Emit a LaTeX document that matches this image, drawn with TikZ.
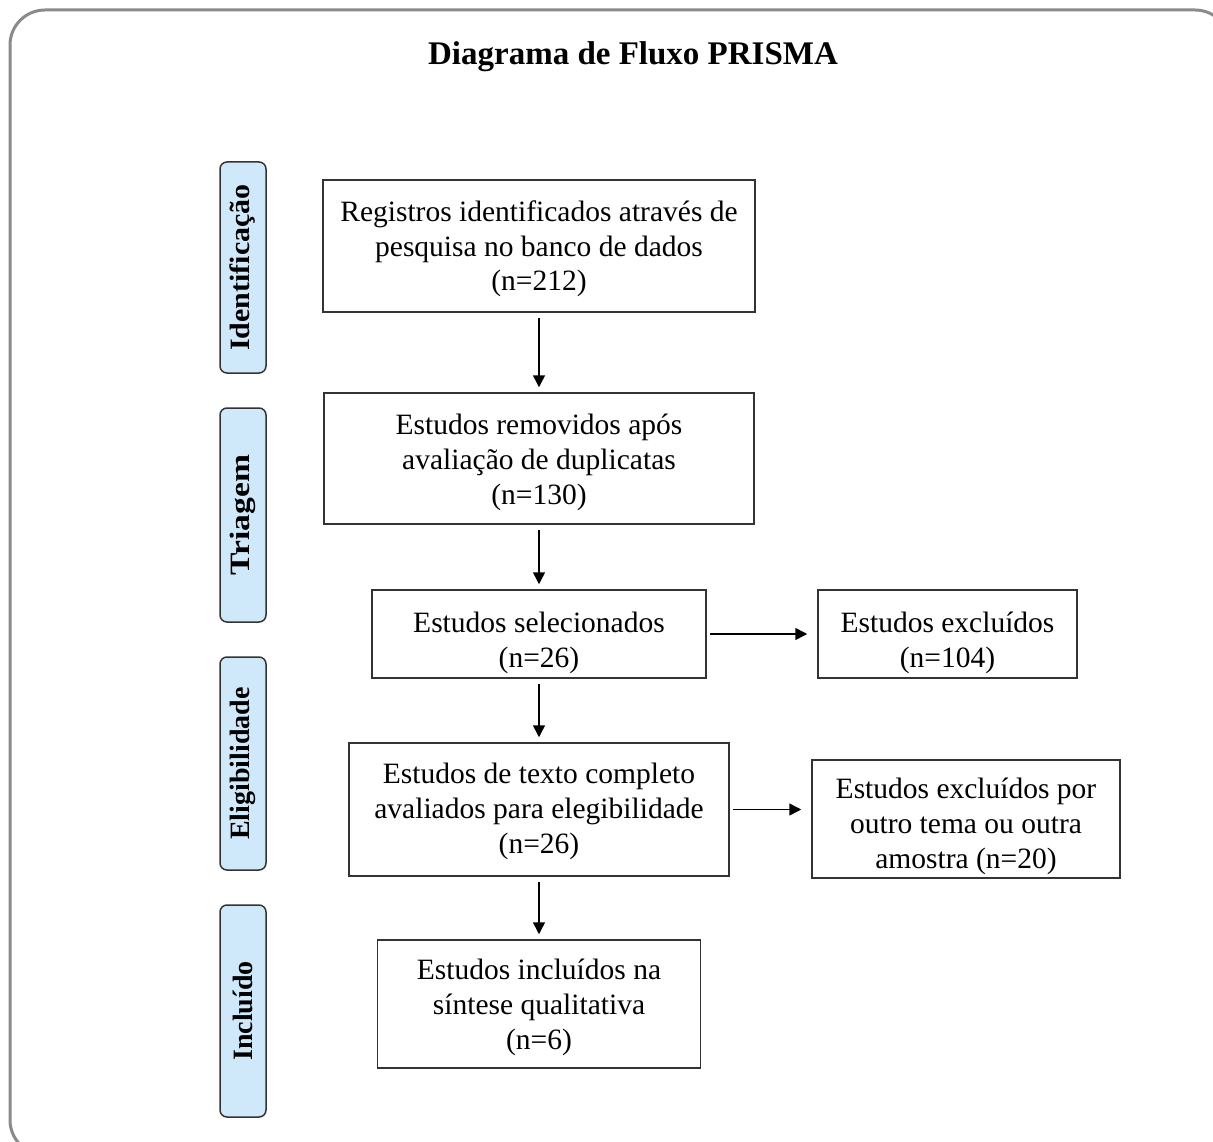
\documentclass[tikz,border=0pt]{standalone}
\usepackage{fontspec}
\setmainfont{Liberation Serif}
\usetikzlibrary{arrows.meta}
\definecolor{sidefill}{HTML}{CFE9FB}
\definecolor{framegray}{HTML}{8A8A8A}
\definecolor{edgegray}{HTML}{333333}
\newcommand\lowtext[2]{\raisebox{-#1pt}[\height][\depth]{\begin{tabular}{@{}c@{}}#2\end{tabular}}}
\tikzset{
  mainbox/.style={draw=edgegray, line width=1.5pt, align=center, inner sep=0pt,
    font=\fontsize{29.5}{35}\selectfont},
  sidebox/.style={draw=edgegray, fill=sidefill, line width=1.5pt, rounded corners=7pt,
    rotate=90, inner sep=0pt, minimum height=46pt,
    font=\fontsize{28}{30}\selectfont\bfseries},
  flow/.style={draw=black, line width=1.5pt, -{Triangle[length=12pt,width=12pt]},
    shorten <=5pt, shorten >=5pt}
}
\begin{document}
\begin{tikzpicture}[x=1pt,y=-1pt]
\useasboundingbox (0,0) rectangle (1213,1142);
\begin{scope}
\clip (0,0) rectangle (1213,1142);
\draw[framegray, line width=3pt, rounded corners=35pt] (10,10) rectangle (1230,1155);
\end{scope}

\node[font=\fontsize{33}{38}\selectfont\bfseries] (title) at (633,57) {Diagrama de Fluxo PRISMA};

% side labels
\node[sidebox, minimum width=211pt] (s1) at (243,267.5) {\scalebox{1.07}[1]{Identificação}};
\node[sidebox, minimum width=214pt] (s2) at (243,515) {\scalebox{1.2}[1]{Triagem}};
\node[sidebox, minimum width=213pt] (s3) at (243,763.5) {Eligibilidade};
\node[sidebox, minimum width=212pt] (s4) at (243,1011) {Incluído};

% main boxes
\node[mainbox, minimum width=432pt, minimum height=132pt] (b1) at (539,246)
  {\lowtext{3}{Registros identificados através de\\pesquisa no banco de dados\\(n=212)}};
\node[mainbox, minimum width=430pt, minimum height=131pt] (b2) at (539,458.5)
  {\lowtext{4}{Estudos removidos após\\avaliação de duplicatas\\(n=130)}};
\node[mainbox, minimum width=334pt, minimum height=88pt] (b3) at (539,634)
  {\lowtext{9}{Estudos selecionados\\(n=26)}};
\node[mainbox, minimum width=259pt, minimum height=88pt] (e1) at (947.5,634)
  {\lowtext{9}{Estudos excluídos\\(n=104)}};
\node[mainbox, minimum width=380pt, minimum height=133pt] (b4) at (539,809.5)
  {\lowtext{1.5}{Estudos de texto completo\\avaliados para elegibilidade\\(n=26)}};
\node[mainbox, minimum width=308pt, minimum height=118pt] (e2) at (966,819)
  {\lowtext{7}{Estudos excluídos por\\outro tema ou outra\\amostra (n=20)}};
\node[mainbox, minimum width=323pt, minimum height=128pt] (b5) at (539,1004)
  {\lowtext{3}{Estudos incluídos na\\síntese qualitativa\\(n=6)}};

% connectors
\draw[flow] (b1.south) -- (b2.north);
\draw[flow] (b2.south) -- (b3.north);
\draw[flow] (b3.south) -- (b4.north);
\draw[flow] (b4.south) -- (b5.north);
\draw[flow, shorten <=3pt, shorten >=10pt] (b3.east) -- (e1.west);
\draw[flow, shorten <=3pt, shorten >=10pt] (b4.east) -- (b4.east -| e2.west);
\end{tikzpicture}
\end{document}
